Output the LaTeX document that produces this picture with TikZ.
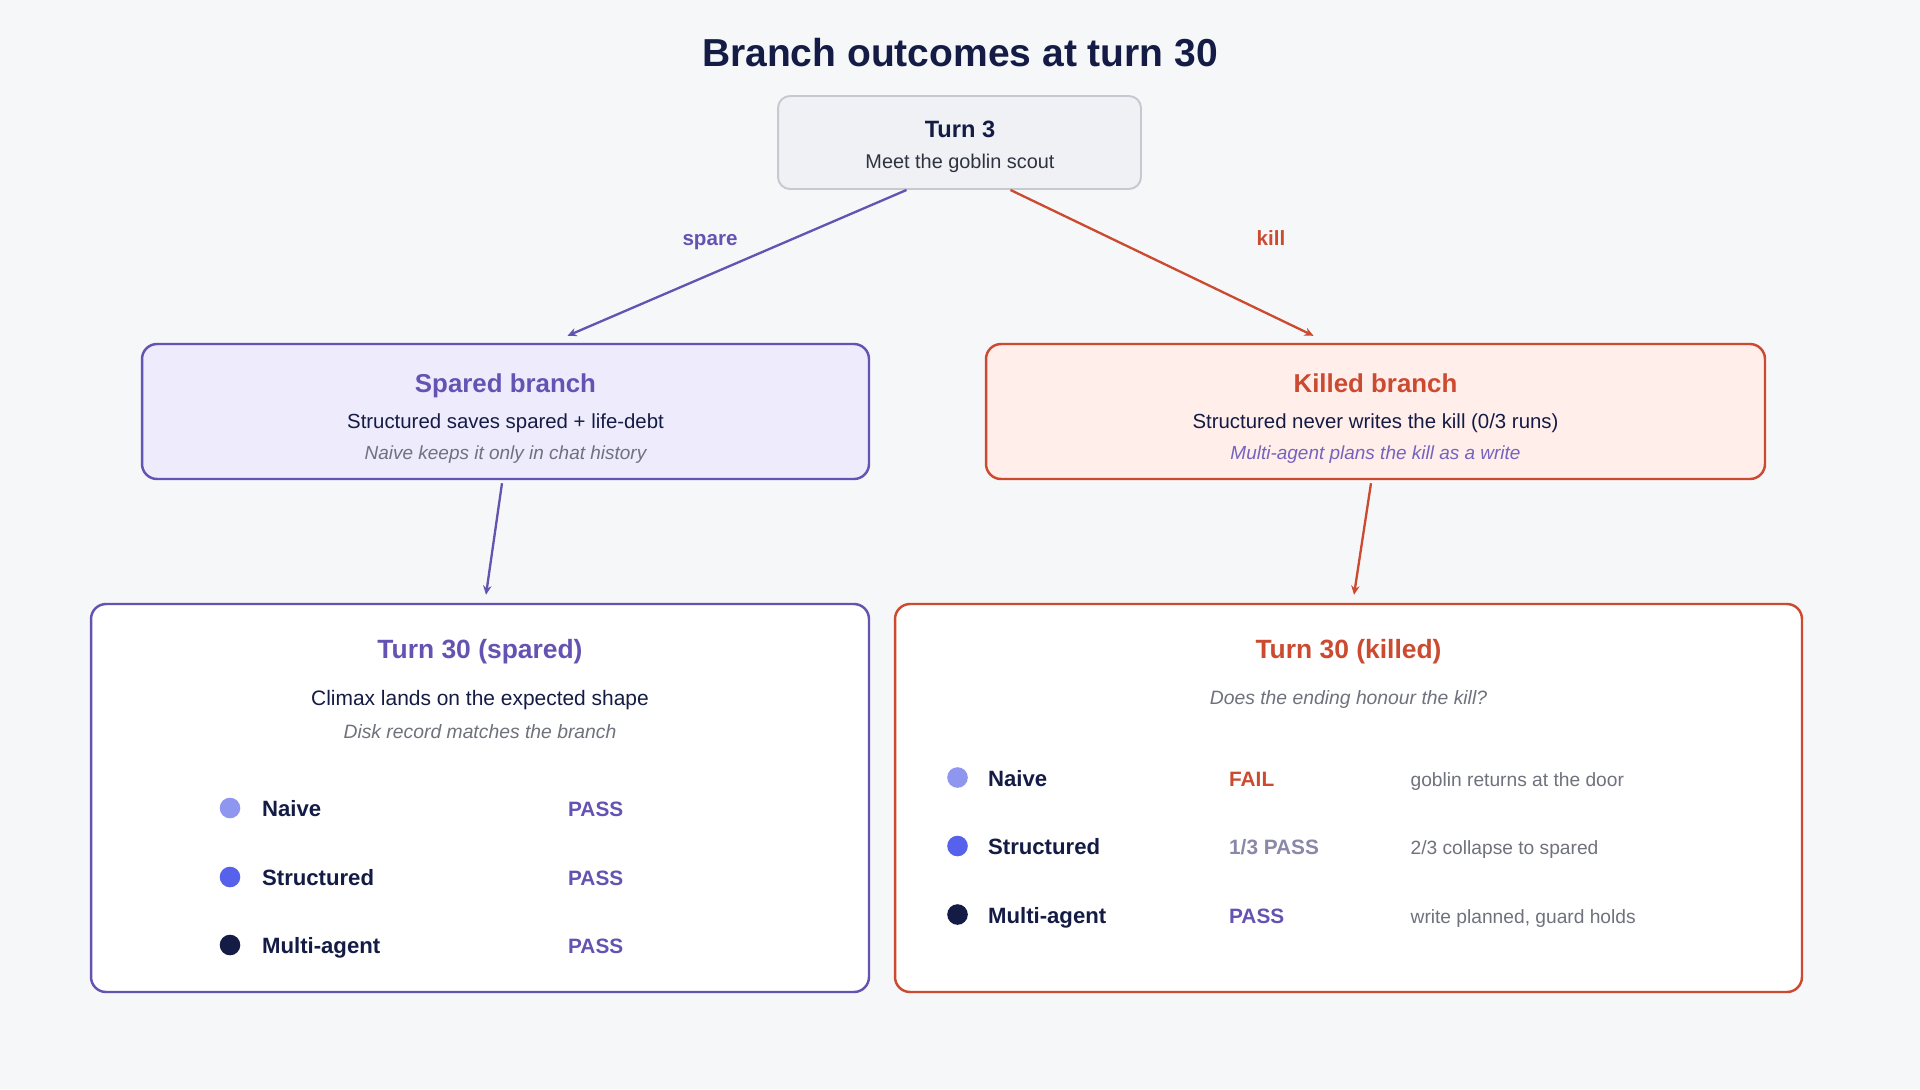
\documentclass[tikz,border=0pt]{standalone}
\usepackage{fontspec}
\setmainfont{Liberation Sans}
\usetikzlibrary{positioning,calc,arrows.meta}
\definecolor{bg}{HTML}{F6F7F9}
\definecolor{ink}{HTML}{141B45}
\definecolor{inksoft}{HTML}{2E3340}
\definecolor{plum}{HTML}{6453B2}
\definecolor{plumfill}{HTML}{EDEBFC}
\definecolor{plumsoft}{HTML}{7563BE}
\definecolor{rust}{HTML}{CB4A30}
\definecolor{rustfill}{HTML}{FFEEEA}
\definecolor{topfill}{HTML}{F0F1F5}
\definecolor{topline}{HTML}{C6C9D0}
\definecolor{greytx}{HTML}{6F727C}
\definecolor{dim}{HTML}{8A88A8}
\definecolor{dotA}{HTML}{8E96F0}
\definecolor{dotB}{HTML}{5662EC}
\definecolor{dotC}{HTML}{141B45}
\newcommand\fs[1]{\fontsize{#1}{#1}\selectfont}

\begin{document}
\begin{tikzpicture}[x=0.05cm,y=-0.05cm,
  card/.style={draw,rounded corners=0.75cm,line width=3.5pt,inner sep=0pt},
  txt/.style={inner sep=0pt,anchor=base},
  row/.style={inner sep=0pt,anchor=base west},
  link/.style={line width=3.3pt,-{Stealth[length=13pt,width=12pt]}},
  dot/.style={circle,inner sep=0pt,minimum size=1.03cm}]
\useasboundingbox (0,0) rectangle (1920,1089);
\fill[bg] (0,0) rectangle (1920,1089);

\node[txt,ink,font=\fs{55.5pt}\bfseries] (title) at (960,66) {Branch outcomes at turn 30};

% turn 3
\node[card,fill=topfill,draw=topline,line width=2.8pt,rounded corners=0.6cm,minimum width=18.15cm,minimum height=4.65cm] (t3) at (959.5,142.5) {};
\node[txt,ink,font=\fs{33.6pt}\bfseries] (t3title) at (960,137) {Turn 3};
\node[txt,inksoft,font=\fs{28.3pt}] (t3sub) at (960,168) {Meet the goblin scout};

% branches
\node[card,fill=plumfill,draw=plum,minimum width=36.35cm,minimum height=6.75cm] (spared) at (505.5,411.5) {};
\node[txt,plum,font=\fs{36.8pt}\bfseries] (sparedtitle) at (505.5,392.5) {Spared branch};
\node[txt,ink,font=\fs{29pt}] (sparedsub) at (505.5,428) {Structured saves spared + life-debt};
\node[txt,greytx,font=\fs{27pt}\itshape] (sparednote) at (505.5,459) {Naive keeps it only in chat history};

\node[card,fill=rustfill,draw=rust,minimum width=38.95cm,minimum height=6.75cm] (killed) at (1375.5,411.5) {};
\node[txt,rust,font=\fs{36.8pt}\bfseries] (killedtitle) at (1375.5,392.5) {Killed branch};
\node[txt,ink,font=\fs{29pt}] (killedsub) at (1375.5,428) {Structured never writes the kill (0/3 runs)};
\node[txt,plumsoft,font=\fs{27pt}\itshape] (killednote) at (1375.5,459) {Multi-agent plans the kill as a write};

\draw[link,plum] ($(t3.south)+(-53,0)$) -- ($(spared.north)+(62,-7)$);
\draw[link,rust] ($(t3.south)+(51,0)$) -- ($(killed.north)+(-62,-7)$);
\node[txt,plum,font=\fs{29.3pt}\bfseries] (sparelbl) at (710,245) {spare};
\node[txt,rust,font=\fs{29.3pt}\bfseries] (killlbl) at (1271,245) {kill};

% turn 30
\node[card,fill=white,draw=plum,minimum width=38.9cm,minimum height=19.4cm] (endspared) at (480,798) {};
\node[txt,plum,font=\fs{37.6pt}\bfseries] (endsparedtitle) at (480,658.5) {Turn 30 (spared)};
\node[txt,ink,font=\fs{29.8pt}] (endsparedsub) at (480,705) {Climax lands on the expected shape};
\node[txt,greytx,font=\fs{27.5pt}\itshape] (endsparednote) at (480,738.5) {Disk record matches the branch};

\node[card,fill=white,draw=rust,minimum width=45.35cm,minimum height=19.4cm] (endkilled) at (1348.5,798) {};
\node[txt,rust,font=\fs{37.6pt}\bfseries] (endkilledtitle) at (1348.5,658.5) {Turn 30 (killed)};
\node[txt,greytx,font=\fs{27.5pt}\itshape] (endkillednote) at (1348.5,704.5) {Does the ending honour the kill?};

\draw[link,plum] ($(spared.south)+(-3.5,3)$) -- ($(endspared.north)+(6,-8)$);
\draw[link,rust] ($(killed.south)+(-4.5,3)$) -- ($(endkilled.north)+(5.5,-8)$);

% spared rows
\node[dot,fill=dotA] (sdot1) at (230,808) {};
\node[dot,fill=dotB] (sdot2) at (230,877) {};
\node[dot,fill=dotC] (sdot3) at (230,945) {};
\node[row,ink,font=\fs{31.5pt}\bfseries] (slab1) at (262,816) {Naive};
\node[row,ink,font=\fs{31.5pt}\bfseries] (slab2) at (262,885) {Structured};
\node[row,ink,font=\fs{31.5pt}\bfseries] (slab3) at (262,953) {Multi-agent};
\node[row,plum,font=\fs{29.6pt}\bfseries] (sres1) at (568,816) {PASS};
\node[row,plum,font=\fs{29.6pt}\bfseries] (sres2) at (568,885) {PASS};
\node[row,plum,font=\fs{29.6pt}\bfseries] (sres3) at (568,953) {PASS};

% killed rows
\node[dot,fill=dotA] (kdot1) at (957.5,777.5) {};
\node[dot,fill=dotB] (kdot2) at (957.5,846) {};
\node[dot,fill=dotC] (kdot3) at (957.5,914.5) {};
\node[row,ink,font=\fs{31.5pt}\bfseries] (klab1) at (988,786) {Naive};
\node[row,ink,font=\fs{31.5pt}\bfseries] (klab2) at (988,854) {Structured};
\node[row,ink,font=\fs{31.5pt}\bfseries] (klab3) at (988,923) {Multi-agent};
\node[row,rust,font=\fs{29.6pt}\bfseries] (kres1) at (1229,786) {FAIL};
\node[row,dim,font=\fs{29.6pt}\bfseries] (kres2) at (1229,854) {1/3 PASS};
\node[row,plum,font=\fs{29.6pt}\bfseries] (kres3) at (1229,923) {PASS};
\node[row,greytx,font=\fs{27.3pt}] (knote1) at (1410.5,786) {goblin returns at the door};
\node[row,greytx,font=\fs{27.3pt}] (knote2) at (1410.5,854) {2/3 collapse to spared};
\node[row,greytx,font=\fs{27.3pt}] (knote3) at (1410.5,923) {write planned, guard holds};
\end{tikzpicture}
\end{document}
